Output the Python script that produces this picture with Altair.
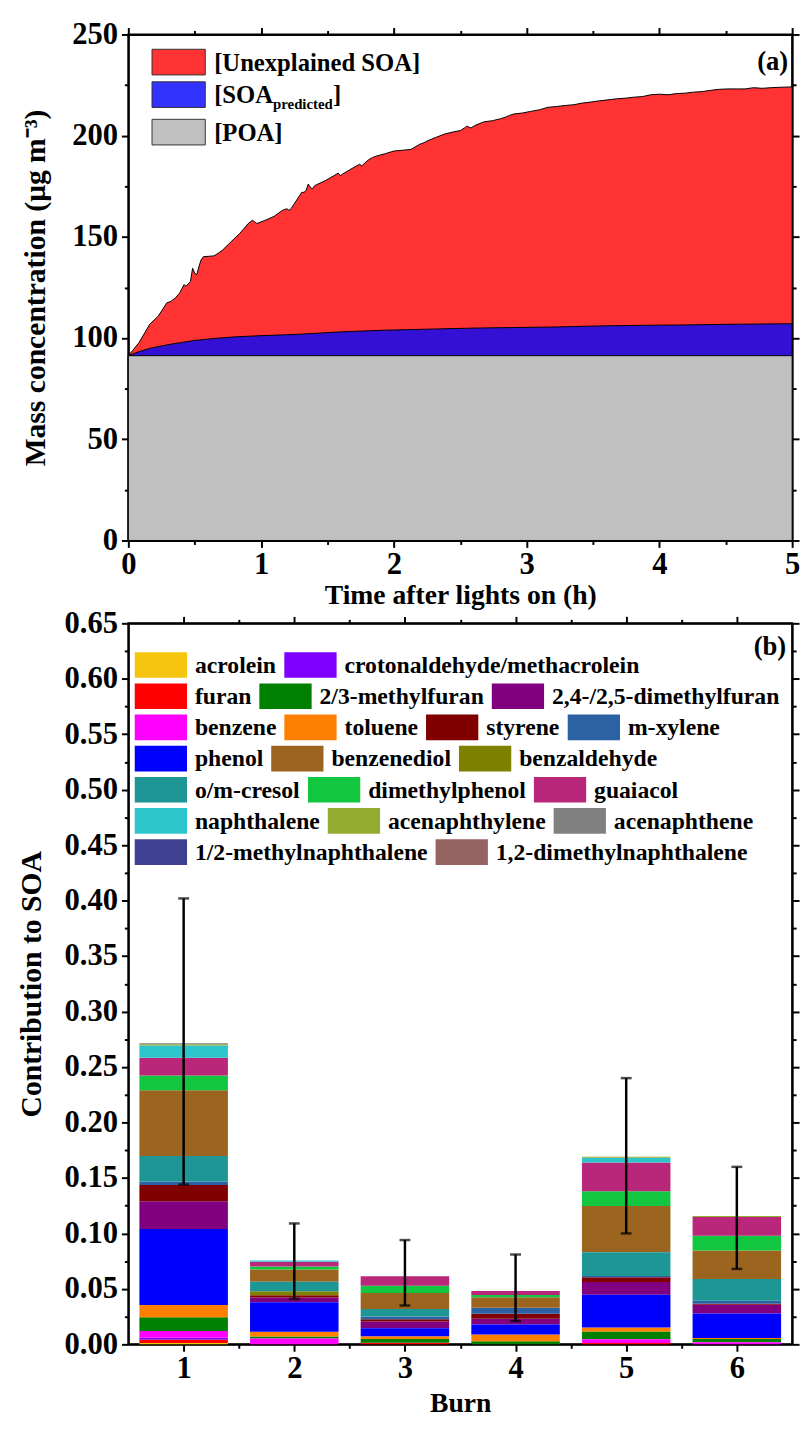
import altair as alt
import pandas as pd

FONT = "Liberation Serif"

# ---------------- Panel (a): mass concentration time series ----------------
time_total_h = [0.000, 0.032, 0.081, 0.161, 0.226, 0.290, 0.323, 0.355, 0.387, 0.419,
                0.435, 0.468, 0.484, 0.500, 0.516, 0.532, 0.548, 0.565, 0.645, 0.677,
                0.710, 0.774, 0.839, 0.871, 0.903, 0.935, 0.968, 1.032, 1.097, 1.161,
                1.194, 1.210, 1.226, 1.258, 1.290, 1.306, 1.323, 1.339, 1.355, 1.371,
                1.387, 1.403, 1.419, 1.484, 1.548, 1.581, 1.597, 1.613, 1.677, 1.742,
                1.758, 1.806, 1.839, 1.871, 1.935, 2.000, 2.065, 2.129, 2.194, 2.226,
                2.258, 2.323, 2.387, 2.452, 2.500, 2.532, 2.548, 2.581, 2.613, 2.677,
                2.742, 2.806, 2.839, 2.871, 2.903, 2.968, 3.032, 3.097, 3.161, 3.226,
                3.290, 3.355, 3.419, 3.484, 3.548, 3.613, 3.677, 3.742, 3.806, 3.871,
                3.935, 4.000, 4.065, 4.129, 4.194, 4.258, 4.323, 4.387, 4.452, 4.516,
                4.581, 4.645, 4.710, 4.774, 4.839, 4.903, 5.000]
total_oa = [91.3, 93.8, 97.8, 106.8, 110.9, 117.4, 118.2, 119.9, 122.3, 126.4,
            125.6, 128.0, 134.5, 132.1, 131.3, 135.4, 138.6, 140.2, 140.6, 141.9,
            143.5, 147.6, 151.7, 154.1, 156.6, 158.2, 156.6, 158.2, 160.1, 163.1,
            163.9, 163.1, 163.9, 167.2, 170.4, 172.0, 172.0, 172.9, 176.1, 174.5,
            173.7, 175.3, 175.8, 177.8, 180.2, 181.5, 180.2, 181.0, 183.5, 185.9,
            185.1, 187.9, 189.2, 190.0, 191.1, 192.4, 192.8, 193.2, 195.7, 196.5,
            197.6, 199.3, 200.9, 201.9, 202.5, 203.8, 204.7, 203.8, 205.1, 206.8,
            207.4, 208.4, 209.1, 210.0, 210.7, 211.2, 212.0, 212.8, 214.0, 214.4,
            214.9, 215.3, 216.1, 216.6, 217.2, 217.7, 218.2, 218.5, 219.0, 219.3,
            220.2, 220.5, 220.2, 220.8, 221.0, 221.5, 221.8, 222.4, 222.9, 223.1,
            223.1, 223.1, 223.7, 223.4, 223.7, 223.9, 224.1]

time_pred_h = [0.000, 0.065, 0.161, 0.258, 0.323, 0.484, 0.645, 0.806, 0.968, 1.290,
               1.613, 1.935, 2.258, 2.581, 2.903, 3.226, 3.548, 3.871, 4.194, 4.516, 5.000]
poa_plus_soa_pred = [91.3, 92.95, 94.9, 96.2, 97.0, 98.7, 99.8, 100.6, 101.1, 101.9,
                     103.1, 103.9, 104.4, 104.9, 105.2, 105.5, 106.0, 106.3, 106.5, 106.8, 107.1]

time_poa_h = [0.0, 5.0]
poa = [91.3, 91.3]

legend_a_labels = ["[Unexplained SOA]", "[SOA", "[POA]"]
legend_a_colors = ["#FF3333", "#3333FF", "#C0C0C0"]
area_colors = ["#FF3333", "#3410D4", "#C0C0C0"]

# ---------------- Panel (b): contribution to SOA per burn ----------------
burns = [1, 2, 3, 4, 5, 6]
species = ["acrolein", "crotonaldehyde/methacrolein", "furan", "2/3-methylfuran",
           "2,4-/2,5-dimethylfuran", "benzene", "toluene", "styrene", "m-xylene",
           "phenol", "benzenediol", "benzaldehyde", "o/m-cresol", "dimethylphenol",
           "guaiacol", "naphthalene", "acenaphthylene", "acenaphthene",
           "1/2-methylnaphthalene", "1,2-dimethylnaphthalene"]
species_colors = ["#F6C60F", "#8000FF", "#FF0000", "#008000", "#800080", "#FF00FF",
                  "#FF8000", "#800000", "#2C62A3", "#0000FF", "#9B6520", "#808000",
                  "#1F9696", "#13C640", "#B8277A", "#2CC5CC", "#93AB2E", "#808080",
                  "#404093", "#966363"]
# stacking order inside the bars, bottom to top
stack_order = ["acrolein", "furan", "crotonaldehyde/methacrolein", "benzene",
               "2/3-methylfuran", "toluene", "phenol", "2,4-/2,5-dimethylfuran",
               "styrene", "benzaldehyde", "m-xylene", "o/m-cresol", "benzenediol",
               "dimethylphenol", "guaiacol", "naphthalene", "acenaphthylene",
               "acenaphthene", "1/2-methylnaphthalene", "1,2-dimethylnaphthalene"]

contrib = {
    "acrolein":                    [0.0012, 0.0,    0.0,    0.0,    0.0,    0.0],
    "crotonaldehyde/methacrolein": [0.0018, 0.0,    0.0,    0.0,    0.0,    0.0],
    "furan":                       [0.0030, 0.0,    0.0015, 0.0,    0.0012, 0.0],
    "2/3-methylfuran":             [0.0125, 0.0018, 0.0033, 0.0027, 0.0071, 0.0030],
    "2,4-/2,5-dimethylfuran":      [0.0249, 0.0042, 0.0059, 0.0053, 0.0116, 0.0080],
    "benzene":                     [0.0060, 0.0053, 0.0,    0.0,    0.0033, 0.0018],
    "toluene":                     [0.0110, 0.0042, 0.0024, 0.0062, 0.0036, 0.0009],
    "styrene":                     [0.0148, 0.0021, 0.0021, 0.0045, 0.0042, 0.0009],
    "m-xylene":                    [0.0030, 0.0,    0.0024, 0.0053, 0.0012, 0.0027],
    "phenol":                      [0.0685, 0.0267, 0.0074, 0.0089, 0.0294, 0.0220],
    "benzenediol":                 [0.0593, 0.0110, 0.0145, 0.0095, 0.0418, 0.0258],
    "benzaldehyde":                [0.0,    0.0036, 0.0,    0.0,    0.0,    0.0],
    "o/m-cresol":                  [0.0231, 0.0086, 0.0068, 0.0,    0.0214, 0.0196],
    "dimethylphenol":              [0.0133, 0.0027, 0.0065, 0.0021, 0.0133, 0.0133],
    "guaiacol":                    [0.0160, 0.0042, 0.0086, 0.0036, 0.0258, 0.0169],
    "naphthalene":                 [0.0110, 0.0012, 0.0,    0.0,    0.0044, 0.0],
    "acenaphthylene":              [0.0012, 0.0,    0.0,    0.0,    0.0009, 0.0009],
    "acenaphthene":                [0.0009, 0.0,    0.0,    0.0,    0.0,    0.0],
    "1/2-methylnaphthalene":       [0.0,    0.0,    0.0,    0.0,    0.0,    0.0],
    "1,2-dimethylnaphthalene":     [0.0,    0.0,    0.0,    0.0,    0.0,    0.0],
}
err_lower = [0.144, 0.041, 0.035, 0.021, 0.100, 0.068]
err_upper = [0.402, 0.109, 0.094, 0.081, 0.240, 0.160]

legend_rows_b = [
    ["acrolein", "crotonaldehyde/methacrolein"],
    ["furan", "2/3-methylfuran", "2,4-/2,5-dimethylfuran"],
    ["benzene", "toluene", "styrene", "m-xylene"],
    ["phenol", "benzenediol", "benzaldehyde"],
    ["o/m-cresol", "dimethylphenol", "guaiacol"],
    ["naphthalene", "acenaphthylene", "acenaphthene"],
    ["1/2-methylnaphthalene", "1,2-dimethylnaphthalene"],
]

# ---------------- layout constants ----------------
W = 673
HA = 513
HB = 731
MAJOR, MINOR = 7, 4
LABEL_FS, XTITLE_FS, YTITLE_FS = 31, 28, 30

# Times-like bold advance widths (per 1000 em) for legend flow layout
CW = {c: 500 for c in "0123456789"}
CW.update({'a': 500, 'b': 556, 'c': 444, 'd': 556, 'e': 444, 'f': 333, 'g': 500, 'h': 556,
           'i': 278, 'j': 333, 'k': 556, 'l': 278, 'm': 833, 'n': 556, 'o': 500, 'p': 556,
           'q': 556, 'r': 444, 's': 389, 't': 333, 'u': 556, 'v': 500, 'w': 722, 'x': 500,
           'y': 500, 'z': 444, ',': 250, '-': 333, '/': 278, ' ': 250, '.': 250, '[': 333,
           ']': 333, 'S': 556, 'O': 778, 'A': 722, 'U': 722, 'P': 611})


def text_w(s, size):
    return sum(CW.get(ch, 500) for ch in s) * size / 1000.0


def ticksize(test):
    return {"condition": {"test": test, "value": MAJOR}, "value": MINOR}


# ================= Panel (a) =================
xs_a = alt.Scale(domain=[0, 5], nice=False, zero=False)
ys_a = alt.Scale(domain=[0, 250], nice=False)
xa_vals = [i * 0.5 for i in range(11)]
ya_vals = [i * 25 for i in range(11)]
x_int = "abs(datum.value - round(datum.value)) < 1e-6"
y50 = "datum.value % 50 === 0"

xa_axis = alt.Axis(title="Time after lights on (h)", values=xa_vals, format=".0f",
                   labelExpr=f"{x_int} ? datum.label : ''", tickSize=ticksize(x_int),
                   labelPadding=3, titlePadding=2, titleFontSize=XTITLE_FS)
ya_axis = alt.Axis(title="Mass concentration (μg m⁻³)", values=ya_vals, format=".0f",
                   labelExpr=f"{y50} ? datum.label : ''", tickSize=ticksize(y50),
                   labelPadding=4, titlePadding=21, titleFontSize=YTITLE_FS)

df_total = pd.DataFrame({"t": time_total_h, "v": total_oa})
df_pred = pd.DataFrame({"t": time_pred_h, "v": poa_plus_soa_pred})
df_poa = pd.DataFrame({"t": time_poa_h, "v": poa})

red = alt.Chart(df_total).mark_area(fill=area_colors[0], stroke="black", strokeWidth=1).encode(
    x=alt.X("t:Q", scale=xs_a, axis=xa_axis), y=alt.Y("v:Q", scale=ys_a, axis=ya_axis))
blue = alt.Chart(df_pred).mark_area(fill=area_colors[1], stroke="black", strokeWidth=1).encode(
    x=alt.X("t:Q", scale=xs_a, axis=None), y=alt.Y("v:Q", scale=ys_a, axis=None))
grey = alt.Chart(df_poa).mark_area(fill=area_colors[2], stroke="black", strokeWidth=1).encode(
    x=alt.X("t:Q", scale=xs_a, axis=None), y=alt.Y("v:Q", scale=ys_a, axis=None))

mirror_a = alt.Chart(df_poa).mark_line(opacity=0).encode(
    x=alt.X("t:Q", scale=xs_a, axis=alt.Axis(orient="top", labels=False, title=None,
                                              values=xa_vals, tickSize=ticksize(x_int))),
    y=alt.Y("v:Q", scale=ys_a, axis=alt.Axis(orient="right", labels=False, title=None,
                                              values=ya_vals, tickSize=ticksize(y50))))

# legend (a)
la_x0, la_sw, la_sh, la_txt, la_fs = 24, 54, 26, 63, 25
la_rows = [28, 61, 99]
leg_a_rect = pd.DataFrame({
    "x": [la_x0] * 3, "x2": [la_x0 + la_sw] * 3,
    "y": [r - la_sh / 2 for r in la_rows], "y2": [r + la_sh / 2 for r in la_rows],
    "col": legend_a_colors})
tx = la_x0 + la_txt
leg_a_text = pd.DataFrame({
    "x": [tx, tx, tx + text_w("[SOA", la_fs),
          tx + text_w("[SOA", la_fs) + text_w("predicted", 15), tx],
    "y": [la_rows[0] + 1, la_rows[1], la_rows[1] + 10, la_rows[1], la_rows[2] + 1],
    "s": [la_fs, la_fs, 15, la_fs, la_fs],
    "txt": [legend_a_labels[0], legend_a_labels[1], "predicted", "]", legend_a_labels[2]]})

leg_a_r = alt.Chart(leg_a_rect).mark_rect(stroke="#333333", strokeWidth=1).encode(
    x=alt.X("x:Q", scale=None, axis=None), x2="x2:Q",
    y=alt.Y("y:Q", scale=None, axis=None), y2="y2:Q",
    color=alt.Color("col:N", scale=None))
leg_a_t = alt.Chart(leg_a_text).mark_text(align="left", baseline="middle", font=FONT,
                                          fontWeight="bold", color="black").encode(
    x=alt.X("x:Q", scale=None, axis=None), y=alt.Y("y:Q", scale=None, axis=None),
    size=alt.Size("s:Q", scale=None), text="txt:N")
tag_a = alt.Chart(pd.DataFrame({"lab": ["(a)"]})).mark_text(
    align="right", baseline="middle", font=FONT, fontWeight="bold", fontSize=27,
    color="black").encode(x=alt.value(W - 4), y=alt.value(28), text="lab:N")

panel_a = alt.layer(red, blue, grey, mirror_a, leg_a_r, leg_a_t, tag_a).resolve_axis(
    x="independent", y="independent").properties(width=W, height=HA)

# ================= Panel (b) =================
rows = []
for sp in species:
    for i, b in enumerate(burns):
        v = contrib[sp][i]
        if v > 0:
            rows.append({"burn": b, "species": sp, "value": v, "order": stack_order.index(sp)})
df_b = pd.DataFrame(rows)
df_err = pd.DataFrame({"burn": burns, "lo": err_lower, "hi": err_upper})
df_caps = pd.DataFrame({"burn": burns * 2, "cap": err_lower + err_upper})

xs_b = alt.Scale(domain=[0.5, 6.5], nice=False, zero=False)
ys_b = alt.Scale(domain=[0, 0.65], nice=False)
xb_vals = [1 + i * 0.5 for i in range(11)]
yb_vals = [round(i * 0.025, 3) for i in range(27)]
y05 = "abs(datum.value * 20 - round(datum.value * 20)) < 1e-6"

xb_axis = alt.Axis(title="Burn", values=xb_vals, format=".0f",
                   labelExpr=f"{x_int} ? datum.label : ''", tickSize=ticksize(x_int),
                   labelPadding=3, titlePadding=6, titleFontSize=XTITLE_FS)
yb_axis = alt.Axis(title="Contribution to SOA", values=yb_vals, format=".2f",
                   labelExpr=f"{y05} ? datum.label : ''", tickSize=ticksize(y05),
                   labelPadding=4, titlePadding=18, titleFontSize=YTITLE_FS)

bars = alt.Chart(df_b).transform_window(
    y1="sum(value)", groupby=["burn"], sort=[alt.SortField("order")], frame=[None, 0]
).transform_calculate(
    y0="datum.y1 - datum.value", xl="datum.burn - 0.4", xr="datum.burn + 0.4"
).mark_bar().encode(
    x=alt.X("xl:Q", scale=xs_b, axis=xb_axis), x2="xr:Q",
    y=alt.Y("y0:Q", scale=ys_b, axis=yb_axis), y2="y1:Q",
    color=alt.Color("species:N", scale=alt.Scale(domain=species, range=species_colors),
                    legend=None))

err = alt.Chart(df_err).mark_rule(color="black", strokeWidth=2.5).encode(
    x=alt.X("burn:Q", scale=xs_b, axis=None), y=alt.Y("lo:Q", scale=ys_b, axis=None), y2="hi:Q")
caps = alt.Chart(df_caps).mark_tick(color="black", orient="horizontal", size=11,
                                    thickness=2.5).encode(
    x=alt.X("burn:Q", scale=xs_b, axis=None), y=alt.Y("cap:Q", scale=ys_b, axis=None))

mirror_b = alt.Chart(df_err).mark_point(opacity=0).encode(
    x=alt.X("burn:Q", scale=xs_b, axis=alt.Axis(orient="top", labels=False, title=None,
                                                 values=xb_vals, tickSize=ticksize(x_int))),
    y=alt.Y("lo:Q", scale=ys_b, axis=alt.Axis(orient="right", labels=False, title=None,
                                               values=yb_vals, tickSize=ticksize(y05))))

# legend (b): flow layout
lb_x0, lb_sw, lb_sh, lb_txt, lb_gap = 6.5, 53, 26, 61, 8
lb_top, lb_step, lb_fs = 42.3, 31.6, 24
col_of = dict(zip(species, species_colors))
rect_rows, text_rows = [], []
for r, items in enumerate(legend_rows_b):
    cy = lb_top + r * lb_step
    cx = lb_x0
    for name in items:
        rect_rows.append({"x": cx, "x2": cx + lb_sw, "y": cy - lb_sh / 2, "y2": cy + lb_sh / 2,
                          "col": col_of[name]})
        text_rows.append({"x": cx + lb_txt, "y": cy + 1, "txt": name})
        cx = cx + lb_txt + text_w(name, lb_fs) + lb_gap
leg_b_r = alt.Chart(pd.DataFrame(rect_rows)).mark_rect().encode(
    x=alt.X("x:Q", scale=None, axis=None), x2="x2:Q",
    y=alt.Y("y:Q", scale=None, axis=None), y2="y2:Q",
    color=alt.Color("col:N", scale=None))
leg_b_t = alt.Chart(pd.DataFrame(text_rows)).mark_text(
    align="left", baseline="middle", font=FONT, fontWeight="bold", fontSize=lb_fs,
    color="black").encode(
    x=alt.X("x:Q", scale=None, axis=None), y=alt.Y("y:Q", scale=None, axis=None), text="txt:N")
tag_b = alt.Chart(pd.DataFrame({"lab": ["(b)"]})).mark_text(
    align="right", baseline="middle", font=FONT, fontWeight="bold", fontSize=27,
    color="black").encode(x=alt.value(W - 6), y=alt.value(24), text="lab:N")

panel_b = alt.layer(bars, err, caps, mirror_b, leg_b_r, leg_b_t, tag_b).resolve_axis(
    x="independent", y="independent").properties(width=W, height=HB)

chart = alt.vconcat(panel_a, panel_b, spacing=-4).configure(
    padding={"left": 7, "top": 0, "right": 2, "bottom": 2}
).configure_view(stroke="black", strokeWidth=2).configure_axis(
    grid=False, domainColor="black", domainWidth=2, tickColor="black", tickWidth=2,
    labelFont=FONT, labelFontWeight="bold", labelFontSize=LABEL_FS, labelColor="black",
    titleFont=FONT, titleFontWeight="bold", titleFontSize=XTITLE_FS, titleColor="black",
    labelOverlap=False, labelFlush=False)

chart.save("out.html", embed_options={"renderer": "svg", "actions": False})
